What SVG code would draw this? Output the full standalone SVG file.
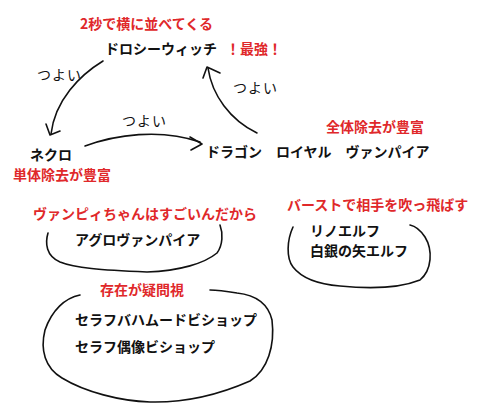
<svg xmlns="http://www.w3.org/2000/svg" width="480" height="420" viewBox="0 0 480 420">
<style>
text{font-family:"Noto Sans CJK JP","Noto Sans CJK SC",sans-serif;font-size:14px;}
.k{fill:#111;font-weight:bold;}
.r{fill:#e0282a;font-weight:bold;}
.h{fill:#111;font-weight:normal;font-size:14px;letter-spacing:1px;}
.ln{fill:none;stroke:#111;stroke-width:1.6;stroke-linecap:round;stroke-linejoin:round;}
</style>
<rect width="480" height="420" fill="#fff"/>
<g id="connectors">
<path class="ln" d="M103,61 C80,75 55,100 51,134"/>
<path class="ln" d="M46,124 L50,135 L60,131"/>
<path class="ln" d="M257,133 C230,120 212,95 208,68"/>
<path class="ln" d="M203,78 L207,67 L220,73"/>
<path class="ln" d="M85,146 C115,135 160,128 200,142"/>
<path class="ln" d="M190,137 L202,144 L191,150"/>
<text class="h" x="37" y="80">つよい</text>
<text class="h" x="233" y="93">つよい</text>
<text class="h" x="122" y="126">つよい</text>
</g>
<g id="dorothy">
<text class="r" x="80" y="29">2秒で横に並べてくる</text>
<text class="k" x="105" y="54">ドロシーウィッチ</text>
<text class="r" x="226" y="54">！最強！</text>
</g>
<g id="necro">
<text class="k" x="30" y="160">ネクロ</text>
<text class="r" x="13" y="180">単体除去が豊富</text>
</g>
<g id="dragon-royal-vampire">
<text class="r" x="326" y="132">全体除去が豊富</text>
<text class="k" x="206" y="157">ドラゴン　ロイヤル　ヴァンパイア</text>
</g>
<g id="aggro-vampire">
<text class="r" x="33" y="219">ヴァンピィちゃんはすごいんだから</text>
<path class="ln" d="M48,233 C45,243 46,256 60,262 C75,268 100,270 147,272 C180,271 205,263 217,253 C223,245 223,233 220,225"/>
<text class="k" x="75" y="245">アグロヴァンパイア</text>
</g>
<g id="elf">
<text class="r" x="287" y="210">バーストで相手を吹っ飛ばす</text>
<path class="ln" d="M293,227 C287,240 286,258 293,267 C300,276 315,284 340,286 C370,289 400,288 420,280 C432,270 433,250 425,237 C421,231 415,226 410,225"/>
<text class="k" x="310" y="236">リノエルフ</text>
<text class="k" x="310" y="256">白銀の矢エルフ</text>
</g>
<g id="bishop">
<text class="r" x="100" y="295">存在が疑問視</text>
<path class="ln" d="M80,295 C65,298 52,310 45,330 C40,350 45,368 62,378 C85,392 120,401 150,402 C190,403 225,392 250,381 C268,370 275,345 272,320 C268,303 255,295 237,293 C225,291 215,290 210,290"/>
<text class="k" x="75" y="325">セラフバハムードビショップ</text>
<text class="k" x="75" y="352">セラフ偶像ビショップ</text>
</g>
</svg>
